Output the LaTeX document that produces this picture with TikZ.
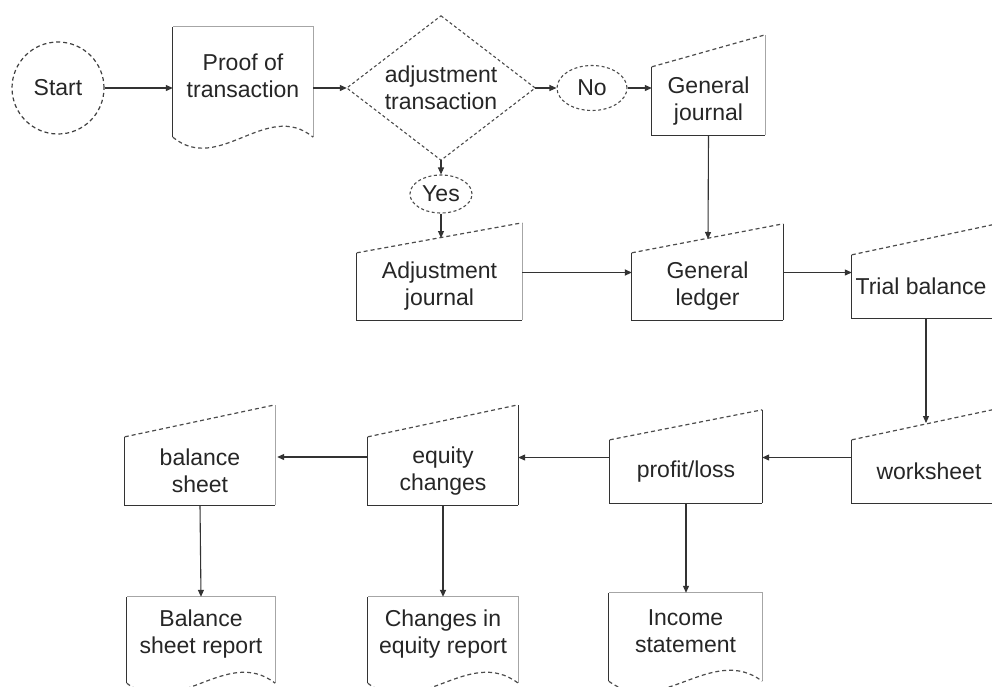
\documentclass[tikz,border=0pt]{standalone}
\usepackage{fontspec}
\setmainfont{Liberation Sans}
\usetikzlibrary{shapes.geometric,arrows.meta,calc}
\begin{document}
\begin{tikzpicture}[x=1pt,y=-1pt,
  txt/.style={font=\fontsize{23}{27}\selectfont, text=black!85, align=center, inner sep=0pt},
  man/.style={txt, rectangle},
  edge/.style={line width=1.3pt, draw=black!80},
  dashedge/.style={line width=1.2pt, draw=black!70, dash pattern=on 4pt off 3pt},
  thindash/.style={draw=black!70, line width=1.1pt, dash pattern=on 3pt off 2.5pt},
  arr/.style={line width=1.1pt, draw=black!80, -{Triangle[length=7pt,width=6pt]}},
  thickarr/.style={arr, line width=1.8pt}]
\newcommand\docout[2][black!35]{%
  \draw[edge] ($(#2.south west)+(0,12)$) -- (#2.north west);
  \draw[edge,draw=#1,line width=1pt] (#2.north west) -- (#2.north east) -- ($(#2.south east)+(0,12)$);
  \draw[dashedge] ($(#2.south west)+(0,12)$) .. controls ($(#2.south west)!0.33!(#2.south east)+(0,50)$) and ($(#2.south west)!0.67!(#2.south east)+(0,-26)$) .. ($(#2.south east)+(0,12)$);
}
\newcommand\manout[3][black!35]{%
  \draw[edge] (#2.north west) -- (#2.south west) -- (#2.south east);
  \draw[edge,draw=#1] (#2.south east) -- ($(#2.north east)+(0,-#3)$);
  \draw[dashedge] (#2.north west) -- ($(#2.north east)+(0,-#3)$);
}
\fill[white] (0,0) rectangle (992,686);
\clip (0,0) rectangle (992,686);

% nodes
\node[txt, circle, draw=black!75, line width=1.2pt, dash pattern=on 4pt off 3pt, minimum size=92pt] (start) at (58,88) {Start};
\node[txt, minimum width=140pt, minimum height=98pt] (proof) at (243,76) {Proof of\\transaction};
\node[txt, rectangle, minimum width=188pt, minimum height=144pt] (dec) at (441,88) {adjustment\\transaction};
\node[txt, ellipse, thindash, minimum width=70pt, minimum height=45pt] (no) at (592,88) {No};
\node[txt, ellipse, thindash, minimum width=62pt, minimum height=38pt] (yes) at (441,194) {Yes};
\node[man, minimum width=113pt, minimum height=68pt] (gj) at (708.5,101) {General\\journal};
\node[man, minimum width=165pt, minimum height=67pt] (aj) at (439.5,286.5) {Adjustment\\journal};
\node[man, minimum width=151pt, minimum height=67pt] (gl) at (707.5,286.5) {General\\ledger};
\node[man, minimum width=154pt, minimum height=63pt] (tb) at (929,286.5) {Trial balance\kern16pt};
\node[man, minimum width=154pt, minimum height=63pt] (ws) at (929,471.5) {worksheet};
\node[man, minimum width=152pt, minimum height=63pt] (pl) at (686,471.5) {profit/loss};
\node[man, minimum width=150pt, minimum height=68pt] (ec) at (443,471) {equity\\changes};
\node[man, minimum width=150pt, minimum height=68pt] (bs) at (200,471) {balance\\sheet};
\node[txt, minimum width=148pt, minimum height=74pt] (bsr) at (201,634) {Balance\\sheet report};
\node[txt, minimum width=150pt, minimum height=74pt] (cer) at (443,634) {Changes in\\equity report};
\node[txt, minimum width=153pt, minimum height=76pt] (inc) at (685.5,631) {Income\\statement};

% outlines
\draw[thindash] (dec.north) -- (dec.east) -- (dec.south) -- (dec.west) -- cycle;
\docout{proof}
\docout{bsr}
\docout{cer}
\docout{inc}
\manout{gj}{32}
\manout{aj}{30}
\manout[black!80]{gl}{29}
\manout[black!80]{tb}{33}
\manout[black!80]{ws}{33}
\manout[black!80]{pl}{30}
\manout[black!80]{ec}{32}
\manout{bs}{32}

% connector end points on slanted tops
\coordinate (ajtop) at (441,238);
\coordinate (gltop) at (708,239);
\coordinate (wstop) at (926,423);

% connectors
\draw[arr] (start.east) -- (start.east -| proof.west);
\draw[arr] (dec.west -| proof.east) -- (dec.west);
\draw[arr] (dec.east) -- (no.west);
\draw[arr] (no.east) -- (no.east -| gj.west);
\draw[arr] (dec.south) -- (yes.north);
\draw[arr] (yes.south) -- (ajtop);
\draw[arr] (gj.south) -- (gltop);
\draw[thickarr] (aj.east) ++(0,-14) coordinate (a1) -- (a1 -| gl.west);
\draw[arr] (gl.east) ++(0,-14) coordinate (a2) -- (a2 -| tb.west);
\draw[arr] (tb.south -| wstop) -- (wstop);
\draw[arr] (ws.west) ++(0,-14) coordinate (a3) -- (a3 -| pl.east);
\draw[arr] (pl.west) ++(0,-14) coordinate (a4) -- (a4 -| ec.east);
\draw[arr] (ec.west) ++(0,-14) coordinate (a5) -- ($(a5 -| bs.east)+(2,0)$);
\draw[arr] (bs.south) -- (bsr.north);
\draw[thickarr] (ec.south) -- (cer.north);
\draw[arr] (pl.south) -- (pl.south |- inc.north);
\end{tikzpicture}
\end{document}
